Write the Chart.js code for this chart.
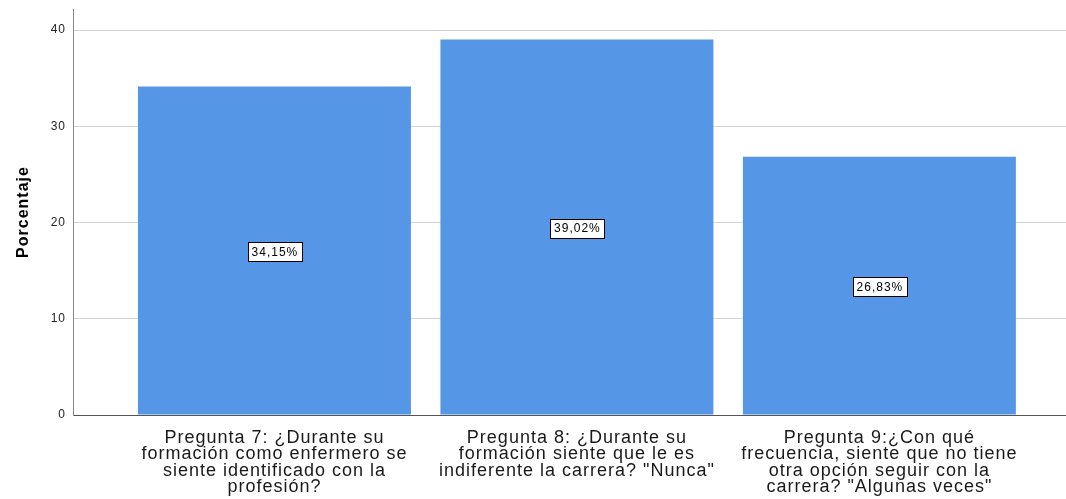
<!DOCTYPE html>
<html>
<head>
<meta charset="utf-8">
<script src="https://cdn.jsdelivr.net/npm/chart.js@4.4.1/dist/chart.umd.min.js"></script>
<style>
html,body{margin:0;padding:0;background:#fff;}
#wrap{width:1066px;height:499px;position:relative;}
</style>
</head>
<body>
<div id="wrap"><canvas id="c" width="1066" height="499"></canvas></div>
<script>
const categories = [
  ["Pregunta 7: ¿Durante su", "formación como enfermero se", "siente identificado con la", "profesión?"],
  ["Pregunta 8: ¿Durante su", "formación siente que le es", "indiferente la carrera? \"Nunca\""],
  ["Pregunta 9:¿Con qué", "frecuencia, siente que no tiene", "otra opción seguir con la", "carrera? \"Algunas veces\""]
];
const positions = [0, 1, 2];
const percentages = [34.15, 39.02, 26.83];
const yTicks = [0, 10, 20, 30, 40];
const yTitle = "Porcentaje";

const FONT = "'Liberation Sans', Arial, sans-serif";

const spacingPlugin = {
  id: 'spacing',
  beforeDraw(chart) { chart.ctx.letterSpacing = '1px'; }
};

const labelPlugin = {
  id: 'boxLabels',
  afterDatasetsDraw(chart) {
    const ctx = chart.ctx;
    const meta = chart.getDatasetMeta(0);
    ctx.save();
    ctx.letterSpacing = '1px';
    ctx.font = "12px " + FONT;
    ctx.textAlign = 'center';
    ctx.textBaseline = 'middle';
    meta.data.forEach((bar, i) => {
      const txt = percentages[i].toFixed(2).replace('.', ',') + '%';
      const cx = bar.x;
      const cy = (bar.y + bar.base) / 2 + 1;
      const w = ctx.measureText(txt).width + 7;
      const h = 19;
      const left = Math.round(cx - w / 2) + 0.5;
      const top = Math.round(cy - h / 2) + 0.5;
      ctx.fillStyle = '#fff';
      ctx.fillRect(left, top, Math.round(w), h);
      ctx.strokeStyle = '#000';
      ctx.lineWidth = 1;
      ctx.strokeRect(left, top, Math.round(w), h);
      ctx.fillStyle = '#000';
      ctx.fillText(txt, cx + 0.5, cy + 1);
    });
    ctx.restore();
  }
};

new Chart(document.getElementById('c'), {
  type: 'bar',
  data: {
    datasets: [{
      data: positions.map((p, i) => ({ x: p, y: percentages[i] })),
      backgroundColor: '#5596e6',
      borderWidth: 0,
      categoryPercentage: 1,
      barPercentage: 0.9025
    }]
  },
  options: {
    responsive: false,
    animation: false,
    layout: { padding: { top: 9, right: 0, left: 0, bottom: 0 } },
    plugins: { legend: { display: false }, tooltip: { enabled: false } },
    scales: {
      x: {
        type: 'linear',
        offset: false,
        min: -0.666,
        max: 2.617,
        afterBuildTicks: (axis) => { axis.ticks = positions.map(v => ({ value: v })); },
        afterFit: (scale) => { scale.height = 84; scale.paddingLeft = 0; scale.paddingRight = 0; },
        grid: { display: false, drawTicks: false },
        border: { display: true, color: '#555', width: 1 },
        ticks: {
          autoSkip: false,
          maxRotation: 0,
          minRotation: 0,
          padding: 15,
          color: '#1a1a1a',
          font: { family: FONT, size: 18, lineHeight: '16.3px' },
          callback: (v) => categories[v]
        }
      },
      y: {
        min: 0,
        max: 42.2,
        afterBuildTicks: (axis) => { axis.ticks = yTicks.map(v => ({ value: v })); },
        afterFit: (scale) => { scale.width = 73; scale.paddingTop = 0; scale.paddingBottom = 0; },
        grid: { color: '#d4d4d4', drawTicks: false, lineWidth: 1 },
        border: { display: true, color: '#888', width: 1 },
        ticks: {
          padding: 7,
          color: '#222',
          font: { family: FONT, size: 12 }
        },
        title: {
          display: true,
          text: yTitle,
          color: '#000',
          font: { family: FONT, size: 16, weight: 'bold' },
          padding: { top: 14, bottom: 0 }
        }
      }
    }
  },
  plugins: [spacingPlugin, labelPlugin]
});
</script>
</body>
</html>
